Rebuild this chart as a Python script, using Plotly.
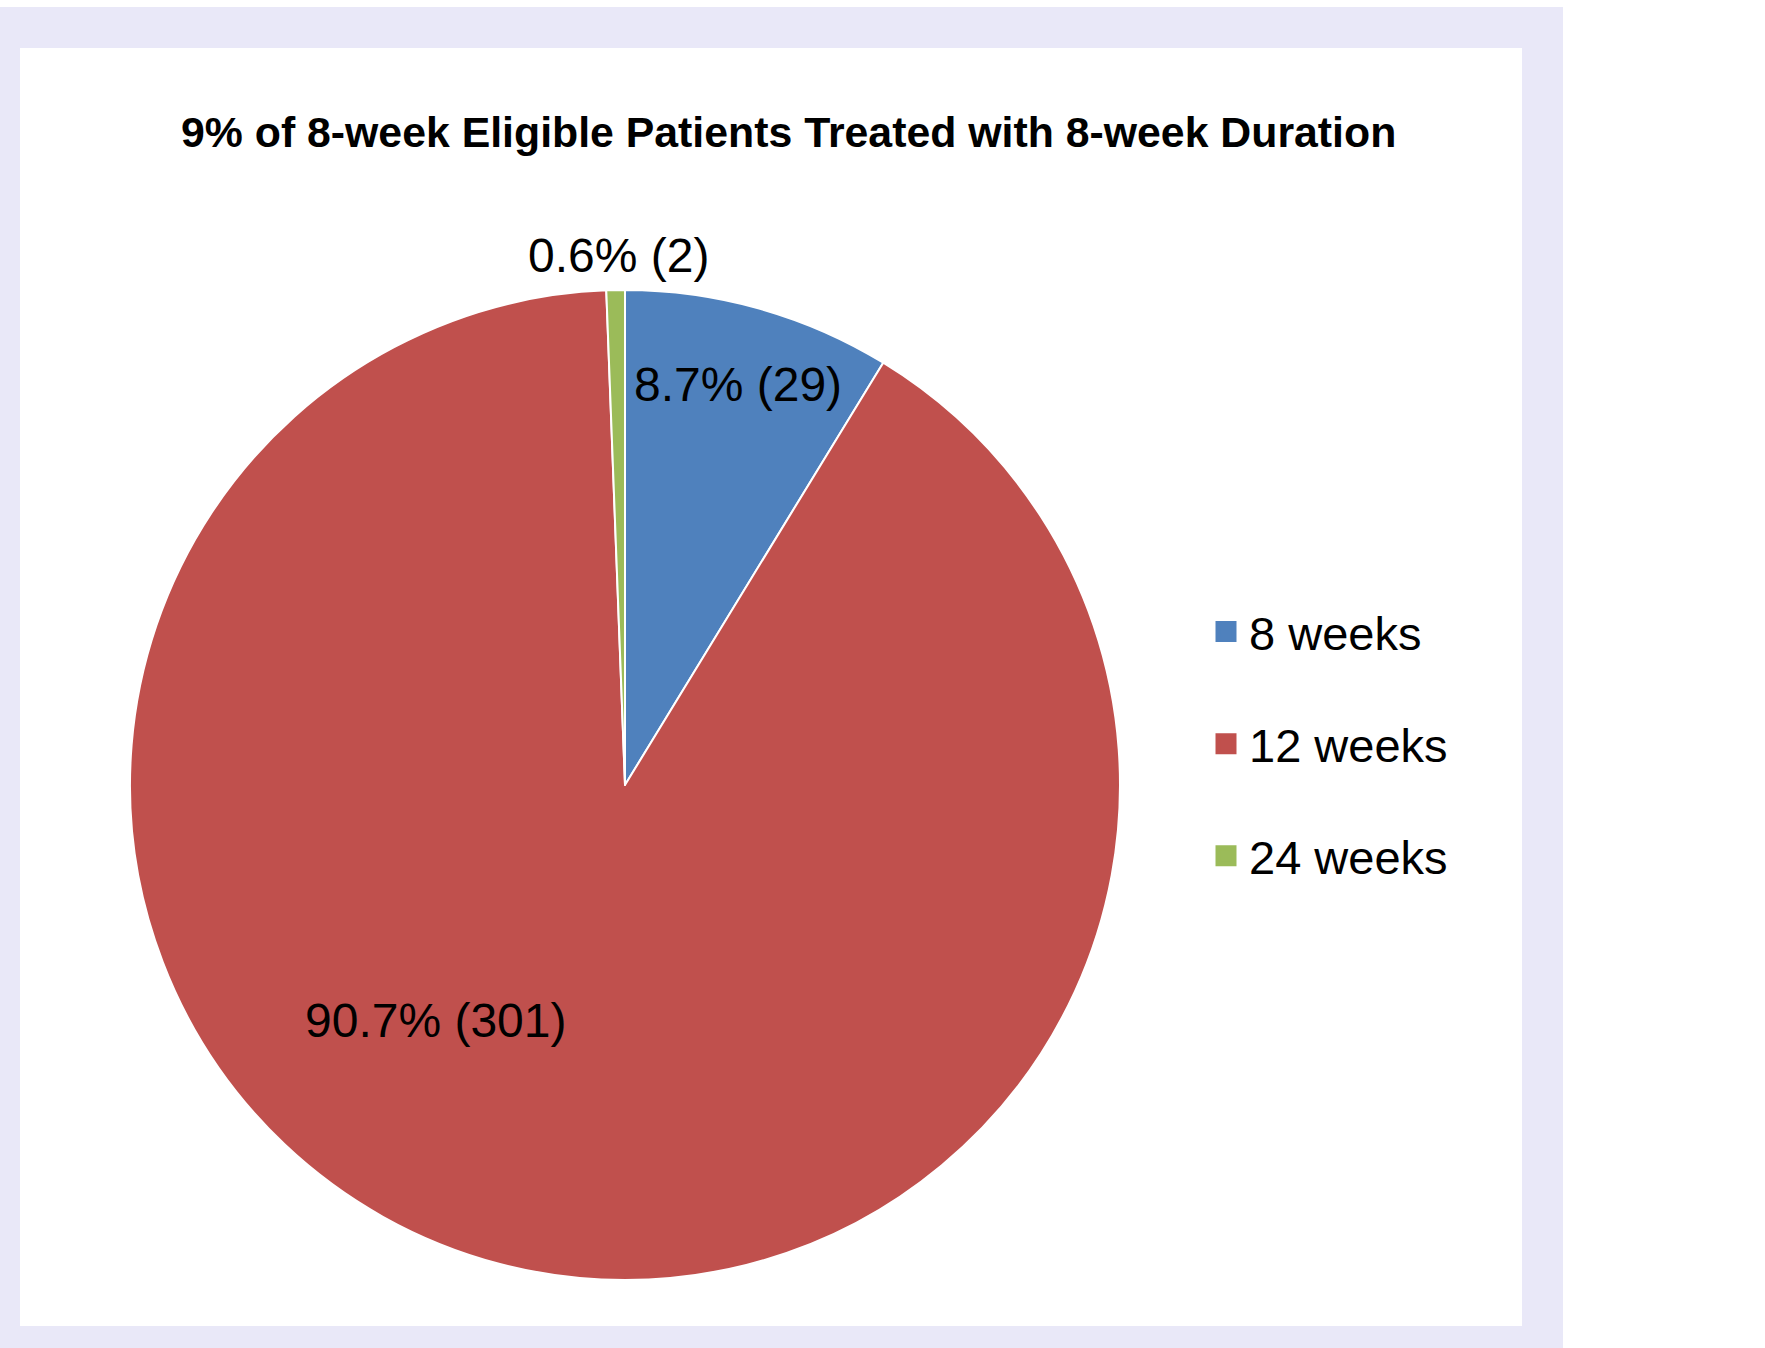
import math
import plotly.graph_objects as go

# ---- data ----
categories = ["8 weeks", "12 weeks", "24 weeks"]
counts = [29, 301, 2]
colors = ["#4F81BD", "#C0504D", "#9BBB59"]
title_text = "9% of 8-week Eligible Patients Treated with 8-week Duration"

# ---- layout constants (pixels) ----
W, H = 1765, 1348
CX, CY, R = 625, 785, 495
# label placement style: radial fraction and angle offset (deg) per slice
label_r = [0.84, 0.61, 1.07]
label_dang = [0.0, 24.0, 0.4]

FONT = "Arial, Liberation Sans, Helvetica, sans-serif"

fig = go.Figure()

fig.add_trace(go.Pie(
    labels=categories,
    values=counts,
    sort=False,
    direction="clockwise",
    rotation=0,
    marker=dict(colors=colors, line=dict(color="white", width=2)),
    textinfo="none",
    hoverinfo="label+value+percent",
    showlegend=False,
    domain=dict(x=[(CX - R) / W, (CX + R) / W], y=[1 - (CY + R) / H, 1 - (CY - R) / H]),
))

# legend entries (one group each so gaps can be set)
for i, (cat, col) in enumerate(zip(categories, colors)):
    fig.add_trace(go.Scatter(
        x=[None], y=[None], mode="markers", name=cat,
        marker=dict(symbol="square", size=16, color=col, line=dict(color=col, width=5)),
        legendgroup=f"g{i}", showlegend=True, hoverinfo="skip",
    ))

# slice labels computed from data
total = sum(counts)
annotations = []
cum = 0
for i, v in enumerate(counts):
    mid = (cum + v / 2) / total * 360 + label_dang[i]
    cum += v
    rr = label_r[i] * R
    px = CX + rr * math.sin(math.radians(mid))
    py = CY - rr * math.cos(math.radians(mid))
    pct = v / total * 100
    annotations.append(dict(
        x=px / W, y=1 - py / H, xref="paper", yref="paper",
        text=f"{pct:.1f}% ({v})", showarrow=False,
        font=dict(family=FONT, size=48, color="black"),
        xanchor="center", yanchor="middle",
    ))

annotations.append(dict(
    x=788 / W, y=1 - 132 / H, xref="paper", yref="paper",
    text=f"<b>{title_text}</b>", showarrow=False,
    font=dict(family=FONT, size=42.8, color="black"),
    xanchor="center", yanchor="middle",
))

shapes = [
    dict(type="rect", xref="paper", yref="paper", x0=0, x1=1563 / W, y0=0, y1=1 - 7 / H,
         fillcolor="#E9E8F8", line=dict(width=0), layer="below"),
    dict(type="rect", xref="paper", yref="paper", x0=20 / W, x1=1522 / W, y0=1 - 1326 / H, y1=1 - 48 / H,
         fillcolor="white", line=dict(width=0), layer="below"),
]

fig.update_layout(
    width=W, height=H,
    margin=dict(l=0, r=0, t=0, b=0),
    paper_bgcolor="white", plot_bgcolor="rgba(0,0,0,0)",
    xaxis=dict(visible=False), yaxis=dict(visible=False),
    shapes=shapes, annotations=annotations,
    legend=dict(
        x=1203 / W, y=1 - 594.5 / H, xanchor="left", yanchor="top",
        font=dict(family=FONT, size=47, color="black"),
        bgcolor="rgba(0,0,0,0)", tracegroupgap=48, itemwidth=36,
    ),
    showlegend=True,
)

fig.write_html(
    "out.html",
    config={"displayModeBar": False},
    post_script="document.body.style.margin='0px';document.body.style.overflow='hidden';",
)
